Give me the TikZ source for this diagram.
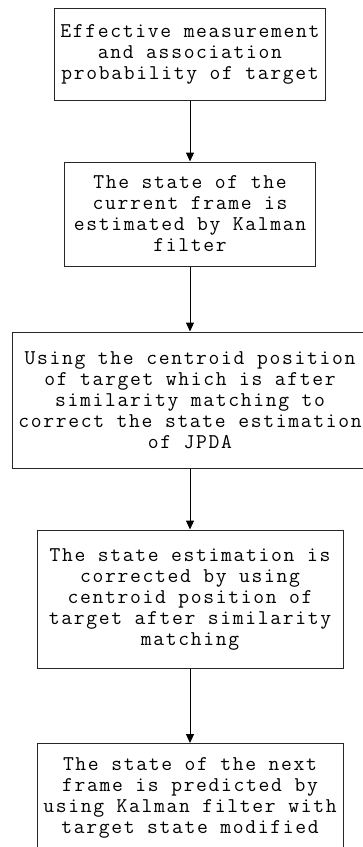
\documentclass[tikz,border=0pt]{standalone}
\usepackage{fontspec}
\setmonofont[LetterSpace=8]{Latin Modern Mono}
\usetikzlibrary{arrows.meta}
\begin{document}
\begin{tikzpicture}[x=1pt,y=1pt,
  txt/.style={align=center, inner sep=0pt,
    font=\fontsize{21}{21}\selectfont\ttfamily},
  box/.style={txt, draw=black!85, line width=1pt},
  arr/.style={-{Triangle[width=8pt,length=9pt]}, line width=1pt}]
\useasboundingbox (0,0) rectangle (363,-847);
\clip (0,0) rectangle (363,-847);
\node[box, minimum width=271, minimum height=92] (b1) at (190,-54)
  {Effective measurement\\and association\\probability of target};
\node[box, minimum width=251, minimum height=104] (b2) at (190,-214)
  {The state of the\\current frame is\\estimated by Kalman\\filter};
\node[box, minimum width=356, minimum height=136] (b3) at (190,-400)
  {Using the centroid position\\of target which is after\\similarity matching to\\correct the state estimation\\of JPDA};
\node[box, minimum width=306, minimum height=138] (b4) at (190,-599)
  {The state estimation is\\corrected by using\\centroid position of\\target after similarity\\matching};
\node[box, minimum width=306, minimum height=107, anchor=north] (b5) at (190,-743)
  {};
\node[txt] (t5) at (190,-798)
  {The state of the next\\frame is predicted by\\using Kalman filter with\\target state modified};
\draw[arr] (b1.south) -- (b2.north);
\draw[arr] (b2.south) -- (b3.north);
\draw[arr] (b3.south) -- (b4.north);
\draw[arr] (b4.south) -- (b5.north);
\end{tikzpicture}
\end{document}
